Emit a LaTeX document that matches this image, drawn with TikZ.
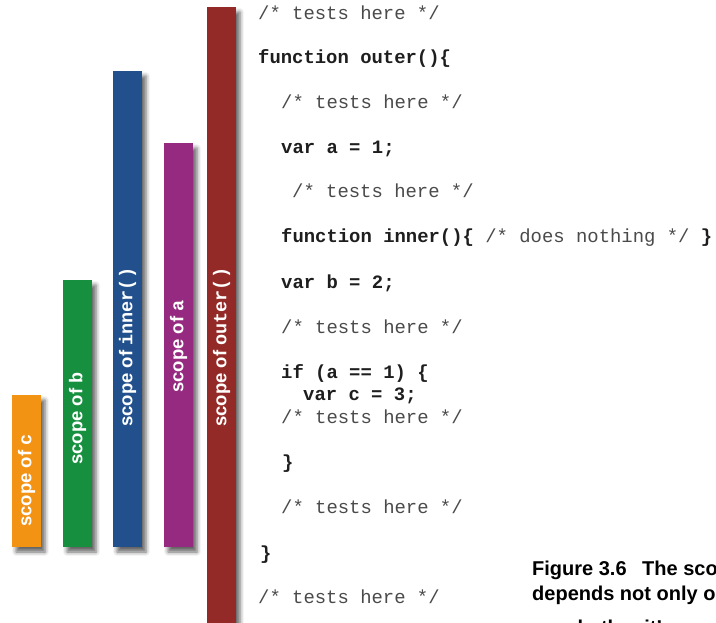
\documentclass[tikz,border=0pt]{standalone}
\usepackage{fontspec}
\setmainfont{Liberation Sans}
\newfontfamily\codefont{Liberation Mono}
\usetikzlibrary{shadows.blur}
\definecolor{cOrange}{HTML}{F39314}
\definecolor{cGreen}{HTML}{168F3F}
\definecolor{cBlue}{HTML}{21508D}
\definecolor{cPurple}{HTML}{952A80}
\definecolor{cRed}{HTML}{932A27}
\definecolor{codeInk}{HTML}{1E1E1E}
\definecolor{commentInk}{HTML}{4A4A4A}
\begin{document}
\begin{tikzpicture}[x=1pt,y=-1pt,
  bar/.style={blur shadow={shadow xshift=4pt,shadow yshift=-5pt,shadow blur radius=4pt,shadow opacity=60}},
  barlabel/.style={rotate=90,anchor=west,inner sep=0pt,text=white,font=\fontsize{18.5}{20}\selectfont\bfseries},
  code/.style={anchor=base west,inner sep=0pt,text=codeInk,font=\codefont\fontsize{18.9}{20}\selectfont\bfseries},
  cmt/.style={anchor=base west,inner sep=0pt,text=commentInk,font=\codefont\fontsize{18.9}{20}\selectfont},
  caption/.style={anchor=base west,inner sep=0pt,text=black,font=\fontsize{20}{22}\selectfont\bfseries}]
\useasboundingbox (0,0) rectangle (716,623);
\clip (0,0) rectangle (716,623);
% bars
\fill[cOrange,bar] (12,395) rectangle (41,547);
\fill[cGreen,bar] (63,280) rectangle (92,547);
\fill[cBlue,bar] (113,71) rectangle (142,547);
\fill[cPurple,bar] (164,143) rectangle (193,547);
\fill[cRed,bar] (207,7) rectangle (236,630);
% bar labels
\node[barlabel] (lc) at (26.5,527) {scope of {\codefont c}};
\node[barlabel] (lb) at (77.5,465) {scope of {\codefont b}};
\node[barlabel] (li) at (127.5,427) {scope of {\codefont inner()}};
\node[barlabel] (la) at (178.5,393) {scope of {\codefont a}};
\node[barlabel] (lo) at (221.5,427) {scope of {\codefont outer()}};
% code
\node[cmt]  (l1)  at (258,20)  {/* tests here */};
\node[code] (l2)  at (258,64)  {function outer()\{};
\node[cmt]  (l3)  at (281,109) {/* tests here */};
\node[code] (l4)  at (281,154) {var a = 1;};
\node[cmt]  (l5)  at (292,198) {/* tests here */};
\node[code] (l6)  at (281,243) {function inner()\{ {\mdseries\color{commentInk}/* does nothing */} \}};
\node[code] (l7)  at (281,289) {var b = 2;};
\node[cmt]  (l8)  at (281,334) {/* tests here */};
\node[code] (l9)  at (281,378) {if (a == 1) \{};
\node[code] (l10) at (303,400) {var c = 3;};
\node[cmt]  (l11) at (281,423) {/* tests here */};
\node[code] (l12) at (282,468) {\}};
\node[cmt]  (l13) at (281,513) {/* tests here */};
\node[code] (l14) at (260,559) {\}};
\node[cmt]  (l15) at (258,603) {/* tests here */};
% caption
\node[caption] (cap1) at (532,575) {Figure 3.6};
\node[caption] (cap2) at (642,575) {The sco};
\node[caption] (cap3) at (532,600) {depends not only on};
\node[caption] (cap4) at (532,634) {on whether it’s a va};
\end{tikzpicture}
\end{document}
